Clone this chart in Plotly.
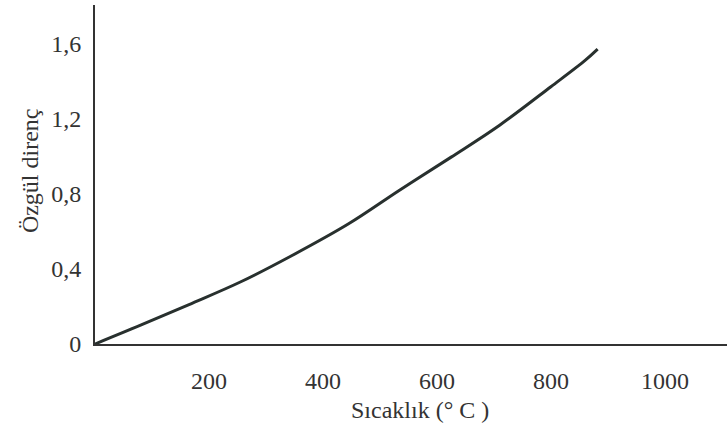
import plotly.graph_objects as go

temperature = [0, 80, 165, 255, 345, 445, 535, 625, 710, 800, 860, 882]
resistivity = [0, 0.10, 0.21, 0.33, 0.47, 0.64, 0.82, 0.995, 1.165, 1.37, 1.51, 1.57]

x_ticks = [200, 400, 600, 800, 1000]
x_ticktext = ["200", "400", "600", "800", "1000"]
y_ticks = [0, 0.4, 0.8, 1.2, 1.6]
y_ticktext = ["0", "0,4", "0,8", "1,2", "1,6"]

FONT = "Liberation Serif"
TXT = "#333333"

fig = go.Figure()
fig.add_trace(go.Scatter(x=temperature, y=resistivity, mode="lines",
                         line=dict(color="#28302e", width=3, shape="spline", smoothing=1.0),
                         showlegend=False, hoverinfo="skip"))

fig.update_layout(
    width=727, height=432,
    margin=dict(l=95, r=0, t=5, b=88),
    paper_bgcolor="white", plot_bgcolor="white",
    font=dict(family=FONT, size=24, color=TXT),
    xaxis=dict(range=[0, 1109], showgrid=False, zeroline=False,
               showline=True, linecolor="#333333", linewidth=2,
               tickvals=x_ticks, ticktext=x_ticktext, ticks="",
               ticklabelstandoff=14, tickfont=dict(family=FONT, size=24, color=TXT)),
    yaxis=dict(range=[0, 1.805], showgrid=False, zeroline=False,
               showline=True, linecolor="#333333", linewidth=2,
               tickvals=y_ticks, ticktext=y_ticktext, ticks="",
               ticklabelstandoff=7, tickfont=dict(family=FONT, size=24, color=TXT)),
    annotations=[
        dict(text="Sıcaklık (° C )", xref="paper", yref="paper", x=0.515, y=0,
             yshift=-66, xanchor="center", yanchor="middle", showarrow=False,
             font=dict(family=FONT, size=24, color=TXT)),
        dict(text="Özgül direnç", xref="paper", yref="paper", x=0, y=0.51,
             xshift=-65, xanchor="center", yanchor="middle", textangle=-90,
             showarrow=False, font=dict(family=FONT, size=24, color=TXT)),
    ],
)

fig.write_html("out.html")
